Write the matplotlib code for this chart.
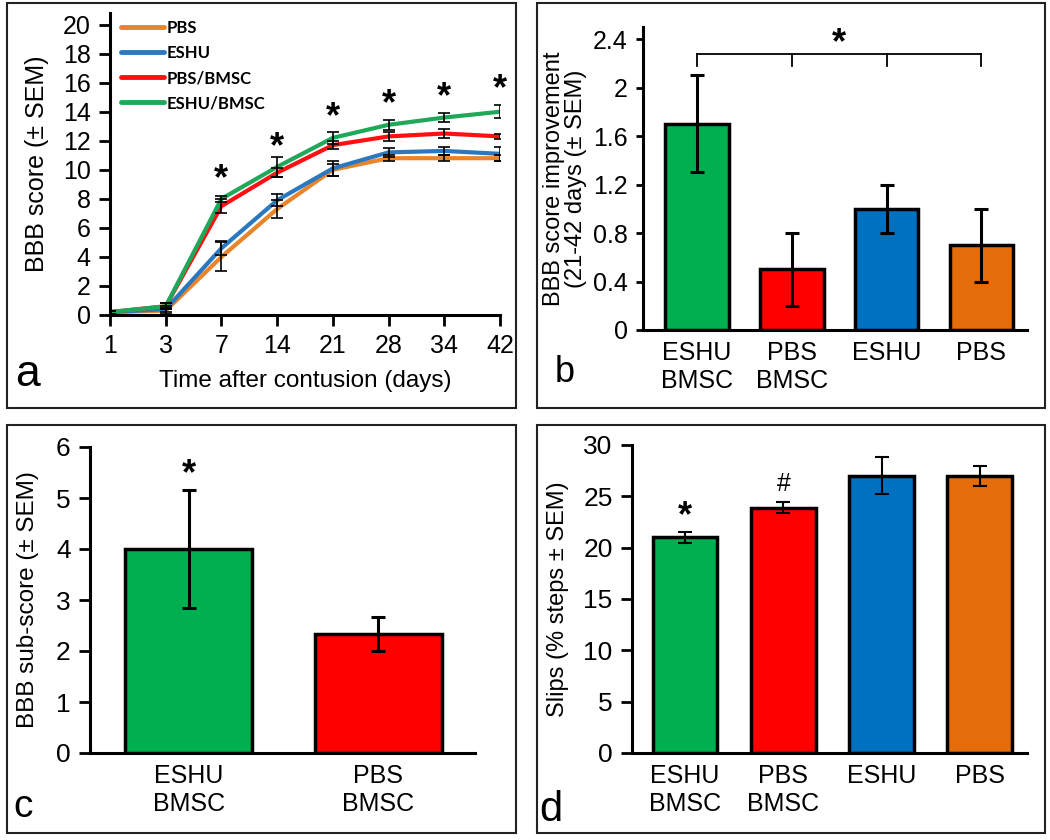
import matplotlib
matplotlib.use("Agg")
import matplotlib.pyplot as plt
from matplotlib.patches import Rectangle

plt.rcParams['font.family'] = ['Liberation Sans', 'DejaVu Sans']

# panel a: BBB score over time
days = ['1', '3', '7', '14', '21', '28', '34', '42']
pbs = [0.2, 0.3, 4.0, 7.3, 10.0, 10.8, 10.8, 10.8]
pbs_err = [0.1, 0.2, 1.0, 0.6, 0.4, 0.2, 0.2, 0.2]
eshu = [0.2, 0.4, 4.6, 7.9, 10.1, 11.2, 11.3, 11.1]
eshu_err = [0.1, 0.2, 0.5, 0.4, 0.5, 0.3, 0.3, 0.5]
pbs_bmsc = [0.2, 0.6, 7.5, 9.8, 11.7, 12.3, 12.5, 12.3]
pbs_bmsc_err = [0.1, 0.2, 0.5, 0.3, 0.3, 0.3, 0.3, 0.2]
eshu_bmsc = [0.2, 0.6, 8.0, 10.2, 12.2, 13.1, 13.6, 14.0]
eshu_bmsc_err = [0.1, 0.2, 0.2, 0.7, 0.4, 0.35, 0.3, 0.45]
star_a_y = [9.3, 11.5, 13.6, 14.5, 15.0, 15.5]

# panel b: improvement 21-42 days
groups4 = ['ESHU\nBMSC', 'PBS\nBMSC', 'ESHU', 'PBS']
improve = [1.7, 0.5, 1.0, 0.7]
improve_err = [0.4, 0.3, 0.2, 0.3]

# panel c: sub-score
groups2 = ['ESHU\nBMSC', 'PBS\nBMSC']
subscore = [4.0, 2.33]
subscore_err = [1.16, 0.33]

# panel d: slips
slips = [21.0, 23.9, 27.0, 27.0]
slips_err = [0.5, 0.5, 1.8, 1.0]

green = '#00B050'
red = '#FF0000'
blue = '#0070C0'
orange = '#E46C0A'
line_cols = ['#E8842A', '#2A78C0', '#FF1010', '#1FA85A']

W, H = 1050, 840
fig = plt.figure(figsize=(10.5, 8.4), dpi=100)


def px_axes(left, top, right, bottom):
    return fig.add_axes([left / W, 1 - bottom / H, (right - left) / W, (bottom - top) / H])


def style(ax):
    for s in ['top', 'right']:
        ax.spines[s].set_visible(False)
    for s in ['left', 'bottom']:
        ax.spines[s].set_linewidth(2.2)
    ax.tick_params(axis='y', direction='out', length=8, width=2, labelsize=18, pad=6)


# panel boxes
for (l, t, r, b) in [(7, 3, 516, 408), (537, 3, 1045, 408), (7, 425, 516, 833), (537, 425, 1045, 833)]:
    fig.add_artist(Rectangle((l / W, 1 - b / H), (r - l) / W, (b - t) / H,
                             transform=fig.transFigure, fill=False, lw=1.5, ec='#222222'))

# ---- a
ax = px_axes(110, 13, 500, 315)
style(ax)
x = list(range(len(days)))
series = [(pbs, pbs_err, 'PBS'), (eshu, eshu_err, 'ESHU'),
          (pbs_bmsc, pbs_bmsc_err, 'PBS/BMSC'), (eshu_bmsc, eshu_bmsc_err, 'ESHU/BMSC')]
for (y, e, lab), c in zip(series, line_cols):
    ax.plot(x, y, color=c, lw=3, label=lab, solid_capstyle='round')
for (y, e, lab) in series:
    ax.errorbar(x, y, yerr=e, fmt='none', ecolor='black', elinewidth=1.2, capsize=4, capthick=1.2, zorder=5)
for i, sy in enumerate(star_a_y):
    ax.text(i + 2, sy, '*', ha='center', va='center', fontsize=26, fontweight='bold')
ax.set_xlim(0, 7)
ax.set_ylim(0, 20.8)
ax.set_yticks(range(0, 21, 2))
ax.set_xticks(x)
ax.set_xticklabels(days)
ax.tick_params(axis='x', direction='out', length=8, width=2, labelsize=18, pad=6)
ax.set_ylabel('BBB score (± SEM)', fontsize=18, labelpad=10)
ax.set_xlabel('Time after contusion (days)', fontsize=17.5, labelpad=8)
leg = ax.legend(loc='upper left', bbox_to_anchor=(0.01, 1.0), frameon=False,
                prop={'family': 'Lato', 'weight': 'bold', 'size': 12},
                handlelength=2.6, handletextpad=0.15, labelspacing=0.55, borderaxespad=0)
for ln in leg.get_lines():
    ln.set_linewidth(3.5)
fig.text(15 / W, 1 - 375 / H, 'a', fontsize=32, va='center', ha='left')

# ---- b
ax = px_axes(643, 27, 1027, 330)
style(ax)
ax.tick_params(axis='y', length=5)
xb = list(range(4))
ax.bar(xb, improve, width=0.67, color=[green, red, blue, orange], edgecolor='black', lw=2.5, zorder=2)
ax.errorbar(xb, improve, yerr=improve_err, fmt='none', ecolor='black', elinewidth=2.2, capsize=5, capthick=2.2, zorder=3)
ax.set_xlim(-0.57, 3.48)
ax.set_ylim(0, 2.5)
ax.set_yticks([0, 0.4, 0.8, 1.2, 1.6, 2.0, 2.4])
ax.set_yticklabels(['0', '0.4', '0.8', '1.2', '1.6', '2', '2.4'])
ax.set_xticks(xb)
ax.set_xticklabels(groups4, fontsize=18)
ax.tick_params(axis='x', length=0, pad=8)
ax.set_ylabel('BBB score improvement\n(21-42 days (± SEM)', fontsize=17, labelpad=4, linespacing=1.0)
# significance bracket
ax.plot([0, 3], [2.28, 2.28], color='black', lw=1.3, clip_on=False)
for xi in xb:
    ax.plot([xi, xi], [2.28, 2.18], color='black', lw=1.3, clip_on=False)
ax.text(1.5, 2.36, '*', ha='center', va='center', fontsize=26, fontweight='bold')
fig.text(555 / W, 1 - 372 / H, 'b', fontsize=26, va='center', ha='left')

# ---- c
ax = px_axes(90, 447, 475, 753)
style(ax)
xc = list(range(2))
ax.bar(xc, subscore, width=0.67, color=[green, red], edgecolor='black', lw=2.5, zorder=2)
ax.errorbar(xc, subscore, yerr=subscore_err, fmt='none', ecolor='black', elinewidth=2.2, capsize=5, capthick=2.2, zorder=3)
ax.set_xlim(-0.52, 1.51)
ax.set_ylim(0, 6)
ax.set_yticks(range(0, 7))
ax.tick_params(axis='y', labelsize=19)
ax.set_xticks(xc)
ax.set_xticklabels(groups2, fontsize=18)
ax.tick_params(axis='x', length=0, pad=8)
ax.set_ylabel('BBB sub-score (± SEM)', fontsize=17.5, labelpad=12)
ax.text(0, 5.45, '*', ha='center', va='center', fontsize=26, fontweight='bold')
fig.text(13 / W, 1 - 807 / H, 'c', fontsize=28, va='center', ha='left')

# ---- d
ax = px_axes(632, 445, 1027, 753)
style(ax)
ax.tick_params(axis='y', labelsize=19)
ax.bar(xb, slips, width=0.66, color=[green, red, blue, orange], edgecolor='black', lw=2.5, zorder=2)
ax.errorbar(xb, slips, yerr=slips_err, fmt='none', ecolor='black', elinewidth=1.5, capsize=5, capthick=1.5, zorder=3)
ax.set_xlim(-0.54, 3.48)
ax.set_ylim(0, 30)
ax.set_yticks(range(0, 31, 5))
ax.set_xticks(xb)
ax.set_xticklabels(groups4, fontsize=18)
ax.tick_params(axis='x', length=0, pad=8)
ax.set_ylabel('Slips (% steps ± SEM)', fontsize=17, labelpad=10)
ax.text(0, 23.0, '*', ha='center', va='center', fontsize=26, fontweight='bold')
ax.text(1, 26.2, '#', ha='center', va='center', fontsize=18)
fig.text(539 / W, 1 - 810 / H, 'd', fontsize=30, va='center', ha='left')

fig.savefig('out.png', dpi=100)
